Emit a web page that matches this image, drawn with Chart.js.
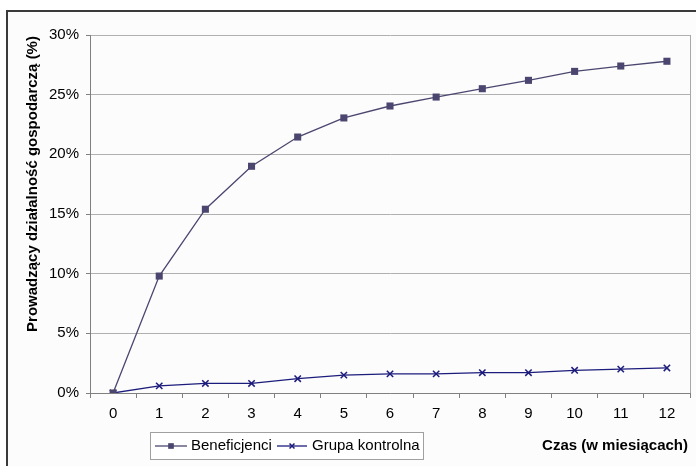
<!DOCTYPE html>
<html>
<head>
<meta charset="utf-8">
<script src="https://cdn.jsdelivr.net/npm/chart.js@4/dist/chart.umd.min.js"></script>
<style>
html,body{margin:0;padding:0;background:#fff;}
#wrap{width:696px;height:466px;}
</style>
</head>
<body>
<div id="wrap"><canvas id="c" width="696" height="466"></canvas></div>
<script>
const categories = ['0','1','2','3','4','5','6','7','8','9','10','11','12'];
const beneficjenci = [0, 9.8, 15.4, 19.0, 21.45, 23.05, 24.05, 24.8, 25.5, 26.2, 26.95, 27.4, 27.8];
const grupaKontrolna = [0, 0.6, 0.8, 0.8, 1.2, 1.5, 1.6, 1.6, 1.7, 1.7, 1.9, 2.0, 2.1];
const seriesNames = ['Beneficjenci', 'Grupa kontrolna'];
const yTitle = 'Prowadzący działalność gospodarczą (%)';
const xTitle = 'Czas (w miesiącach)';

const FONT = '"Liberation Sans", Arial, sans-serif';
const colB = '#4b466f';
const colG = '#1c1c7c';

const framePlugin = {
  id: 'frame',
  beforeDraw(chart) {
    const ctx = chart.ctx;
    ctx.save();
    ctx.fillStyle = '#ffffff';
    ctx.fillRect(0, 0, chart.width, chart.height);
    ctx.fillStyle = '#fcfcfc';
    ctx.fillRect(8, 12, chart.width - 8, chart.height - 12);
    ctx.strokeStyle = '#3a3a3a';
    ctx.lineWidth = 2;
    ctx.beginPath();
    ctx.moveTo(7, chart.height);
    ctx.lineTo(7, 11);
    ctx.lineTo(chart.width, 11);
    ctx.stroke();
    ctx.restore();
  },
  afterDraw(chart) {
    const ctx = chart.ctx;
    const a = chart.chartArea;
    ctx.save();
    // right border of plot
    ctx.strokeStyle = '#a8a8a8';
    ctx.lineWidth = 1;
    ctx.beginPath();
    ctx.moveTo(a.right + 0.5, a.top);
    ctx.lineTo(a.right + 0.5, a.bottom);
    ctx.stroke();
    // y title
    ctx.fillStyle = '#000';
    ctx.font = 'bold 15px ' + FONT;
    ctx.textAlign = 'center';
    ctx.textBaseline = 'middle';
    ctx.translate(33, 184);
    ctx.rotate(-Math.PI / 2);
    ctx.fillText(yTitle, 0, 0);
    ctx.restore();

    ctx.save();
    ctx.fillStyle = '#000';
    ctx.font = 'bold 15px ' + FONT;
    ctx.textAlign = 'right';
    ctx.textBaseline = 'middle';
    ctx.fillText(xTitle, 688, 446);
    // legend
    ctx.fillStyle = '#ffffff';
    ctx.fillRect(150.5, 432.5, 273, 27);
    ctx.strokeStyle = '#a0a0a0';
    ctx.lineWidth = 1;
    ctx.strokeRect(150.5, 432.5, 273, 27);
    const ly = 446;
    const ds = chart.data.datasets;
    const items = [{x0: 155, x1: 187, tx: 191, r: 4}, {x0: 277, x1: 307, tx: 312, r: 3.5}];
    items.forEach((it, i) => {
      const d = ds[i];
      ctx.strokeStyle = d.borderColor;
      ctx.fillStyle = d.borderColor;
      ctx.lineWidth = 1.3;
      ctx.beginPath();
      ctx.moveTo(it.x0, ly);
      ctx.lineTo(it.x1, ly);
      ctx.stroke();
      ctx.lineWidth = d.pointBorderWidth || 1;
      Chart.helpers.drawPoint(ctx, {
        pointStyle: d.pointStyle, rotation: 0, radius: it.r,
        borderWidth: d.pointBorderWidth
      }, (it.x0 + it.x1) / 2, ly);
      ctx.fillStyle = '#000';
      ctx.font = '15px ' + FONT;
      ctx.textAlign = 'left';
      ctx.fillText(d.label, it.tx, ly);
    });
    ctx.restore();
  }
};

new Chart(document.getElementById('c'), {
  type: 'line',
  data: {
    labels: categories,
    datasets: [
      {
        label: seriesNames[0],
        data: beneficjenci,
        borderColor: colB,
        backgroundColor: colB,
        borderWidth: 1.3,
        pointStyle: 'rect',
        pointRadius: 5,
        pointBorderWidth: 0,
        pointBackgroundColor: colB,
        pointBorderColor: colB,
        tension: 0
      },
      {
        label: seriesNames[1],
        data: grupaKontrolna,
        borderColor: colG,
        backgroundColor: colG,
        borderWidth: 1.3,
        pointStyle: 'crossRot',
        pointRadius: 4.5,
        pointBorderWidth: 1.5,
        pointBackgroundColor: colG,
        pointBorderColor: colG,
        tension: 0
      }
    ]
  },
  options: {
    responsive: false,
    animation: false,
    devicePixelRatio: 1,
    layout: { padding: { left: 0, top: 35, right: 1, bottom: 0 } },
    plugins: {
      legend: { display: false },
      tooltip: { enabled: false },
      title: { display: false }
    },
    scales: {
      x: {
        type: 'category',
        offset: true,
        grid: {
          offset: true,
          drawOnChartArea: false,
          drawTicks: true,
          tickLength: 5,
          color: '#808080'
        },
        border: { display: true, color: '#808080', width: 1 },
        ticks: {
          color: '#000',
          font: { family: FONT, size: 15 },
          padding: 7,
          maxRotation: 0,
          autoSkip: false
        },
        afterFit(scale) { scale.height = 73; }
      },
      y: {
        min: 0,
        max: 30,
        grid: {
          color: '#b0b0b0',
          drawTicks: true,
          tickLength: 4,
          tickColor: '#808080'
        },
        border: { display: true, color: '#808080', width: 1 },
        ticks: {
          stepSize: 5,
          color: '#000',
          font: { family: FONT, size: 15 },
          padding: 7,
          callback: v => v + '%'
        },
        afterFit(scale) { scale.width = 90; }
      }
    }
  },
  plugins: [framePlugin]
});
</script>
</body>
</html>
